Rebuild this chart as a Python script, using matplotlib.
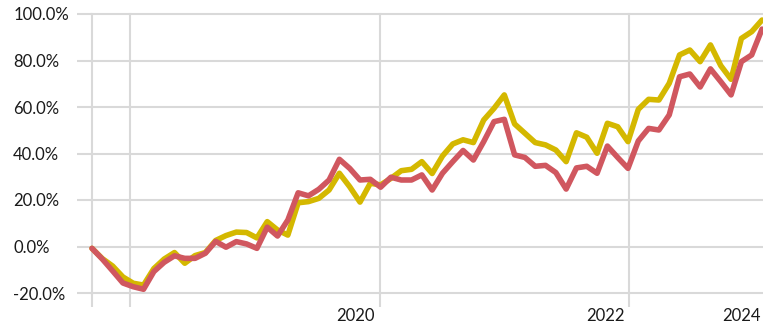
import numpy as np
import matplotlib
matplotlib.use("Agg")
from matplotlib import pyplot as plt

# cumulative return, % (monthly points)
yellow = [-0.8, -5.2, -8.4, -13.1, -15.8, -16.6, -9.5, -5.4, -2.6, -7.2,
          -3.9, -2.6, 2.6, 4.7, 6.2, 6.0, 3.7, 10.7, 7.1, 4.9,
          18.8, 19.3, 20.7, 24.3, 31.5, 25.7, 19.1, 27.2, 26.5, 29.3,
          32.6, 33.2, 36.5, 31.4, 38.9, 44.1, 45.9, 44.7, 54.4, 59.4,
          65.2, 52.7, 48.7, 44.7, 43.7, 41.5, 36.5, 48.9, 47.0, 40.1,
          53.0, 51.5, 45.1, 59.0, 63.3, 63.0, 70.2, 82.4, 84.5, 79.5,
          86.7, 77.8, 71.9, 89.5, 92.4, 97.4]
red = [-0.8, -5.4, -10.5, -15.7, -17.3, -18.4, -10.8, -6.8, -4.0, -5.1,
       -5.1, -2.9, 2.2, -0.3, 2.1, 1.1, -0.8, 8.3, 4.5, 11.4,
       23.1, 21.8, 24.6, 28.6, 37.5, 33.6, 28.6, 28.9, 25.5, 29.8,
       28.6, 28.6, 30.8, 24.3, 31.5, 36.5, 41.3, 37.2, 45.1, 53.7,
       54.7, 39.4, 38.3, 34.5, 34.9, 31.8, 24.7, 33.8, 34.5, 31.5,
       43.2, 38.3, 33.6, 45.4, 50.8, 50.1, 56.6, 73.0, 74.2, 68.6,
       76.4, 70.9, 65.2, 79.5, 82.4, 93.5]
months = np.arange(len(red))

grid_x = [0, 3.69, 27.95, 52.12]
year_pos = [25.6, 49.85, 63.0]
year_labels = ['2020', '2022', '2024']
y_ticks = [-20, 0, 20, 40, 60, 80, 100]

plt.rcParams['font.family'] = ['Lato', 'DejaVu Sans']
grid_col = '#d9d9d9'
text_col = '#1a1a1a'

fig = plt.figure(figsize=(7.63, 3.29), dpi=100)
ax = fig.add_axes([92 / 763, 36 / 329, 670 / 763, 279 / 329])

ax.plot(months, yellow, color='#d4b800', lw=4, solid_joinstyle='round',
        solid_capstyle='round', clip_on=False, zorder=3)
ax.plot(months, red, color='#d0575f', lw=4, solid_joinstyle='round',
        solid_capstyle='round', clip_on=False, zorder=4)

ax.set_xlim(0, len(red) - 1)
ax.set_ylim(-20, 100)
for s in ax.spines.values():
    s.set_visible(False)

ax.set_yticks(y_ticks, [f'{v:.1f}%' for v in y_ticks])
ax.set_xticks(grid_x, [''] * len(grid_x))
ax.set_xticks(year_pos, year_labels, minor=True)

ax.grid(True, which='major', color=grid_col, lw=1.5)
for gl in ax.get_xgridlines() + ax.get_ygridlines():
    gl.set_clip_on(False)

ax.tick_params(axis='both', which='major', color=grid_col, width=1.5,
               direction='out')
ax.tick_params(axis='y', length=10.8, pad=46, labelsize=12,
               labelcolor=text_col)
for lbl in ax.get_yticklabels():
    lbl.set_ha('left')
ax.tick_params(axis='x', which='major', length=10)
ax.tick_params(axis='x', which='minor', length=0, pad=11, labelsize=12,
               labelcolor=text_col)

fig.savefig('out.png', dpi=100)
